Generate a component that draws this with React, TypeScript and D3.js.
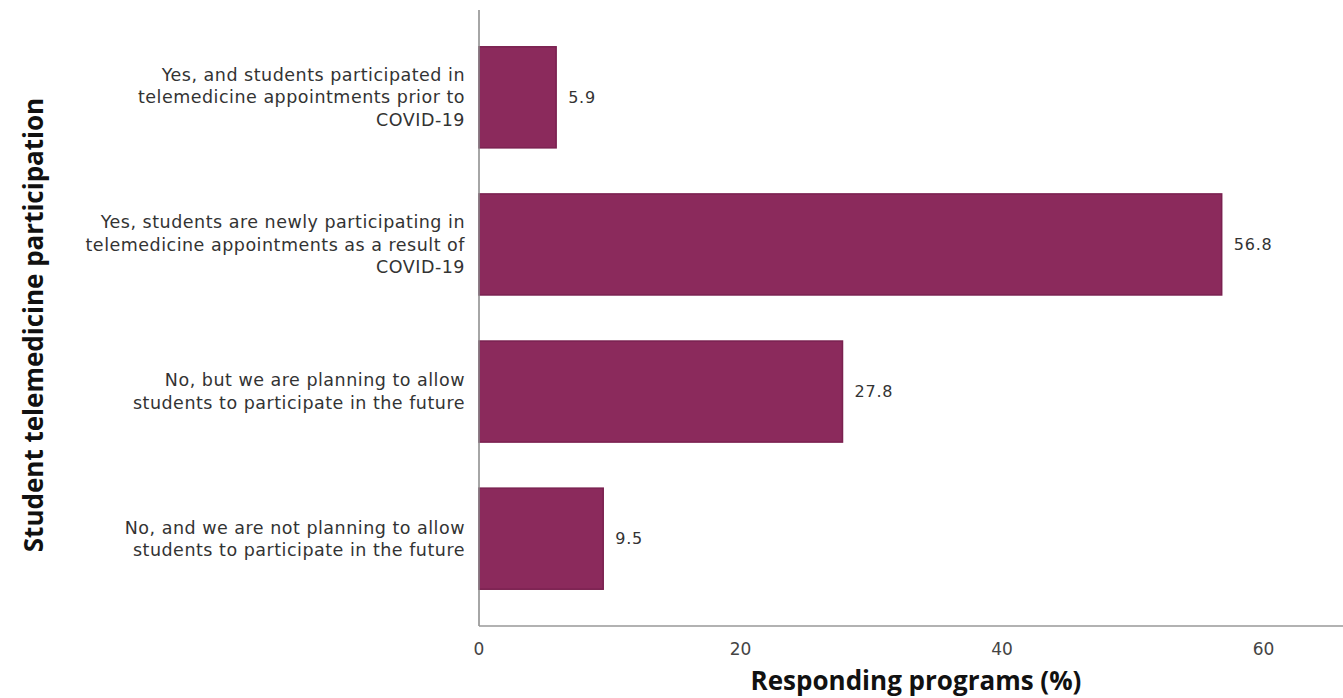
import React, { useEffect, useRef } from 'react';
import * as d3 from 'd3';

// category labels, already split into the lines used in the chart
const categories: string[][] = [
  ['Yes, and students participated in', 'telemedicine appointments prior to', 'COVID-19'],
  ['Yes, students are newly participating in', 'telemedicine appointments as a result of', 'COVID-19'],
  ['No, but we are planning to allow', 'students to participate in the future'],
  ['No, and we are not planning to allow', 'students to participate in the future'],
];
const values: number[] = [5.9, 56.8, 27.8, 9.5];
const xTicks: number[] = [0, 20, 40, 60];

const xTitle = 'Responding programs (%)';
const yTitle = 'Student telemedicine participation';

const App: React.FC = () => {
  const svgRef = useRef<SVGSVGElement>(null);

  useEffect(() => {
    if (!svgRef.current) return;
    const width = 1343;
    const height = 698;
    const font = '"DejaVu Sans", sans-serif';
    const titleFont = '"Open Sans", "Noto Sans", sans-serif';

    const svg = d3.select(svgRef.current).attr('width', width).attr('height', height);
    svg.selectAll('*').remove();

    svg.append('rect').attr('width', width).attr('height', height).style('fill', 'white');

    const x = d3.scaleLinear().domain([0, 66]).range([479, 1342]);
    const idx = values.map((_, i) => String(i));
    const y = d3.scaleBand<string>().domain(idx).range([10, 626]).paddingInner(0.313).paddingOuter(0.25);

    // bars
    svg.selectAll('.bar')
      .data(values)
      .enter().append('rect')
      .attr('class', 'bar')
      .attr('x', x(0))
      .attr('y', (_, i) => y(String(i))!)
      .attr('width', d => x(d) - x(0))
      .attr('height', y.bandwidth())
      .style('fill', '#8b2a5c')
      .style('stroke', '#7a2150')
      .style('stroke-width', 1.5);

    // value labels
    svg.selectAll('.val')
      .data(values)
      .enter().append('text')
      .attr('class', 'val')
      .attr('x', d => x(d) + 12)
      .attr('y', (_, i) => y(String(i))! + y.bandwidth() / 2)
      .attr('dy', '0.35em')
      .style('font-family', font)
      .style('font-size', '16px')
      .style('letter-spacing', '0.8px')
      .style('fill', '#333')
      .text(d => d.toFixed(1));

    // category labels
    const lineH = 22.5;
    const cat = svg.selectAll('.cat')
      .data(categories)
      .enter().append('text')
      .attr('class', 'cat')
      .attr('text-anchor', 'end')
      .style('font-family', font)
      .style('font-size', '17.5px')
      .style('letter-spacing', '0.5px')
      .style('fill', '#333');
    cat.each(function (lines, i) {
      const cy = y(String(i))! + y.bandwidth() / 2;
      const top = cy - ((lines.length - 1) * lineH) / 2;
      d3.select(this).selectAll('tspan')
        .data(lines)
        .enter().append('tspan')
        .attr('x', 465)
        .attr('y', (_, j) => top + j * lineH)
        .attr('dy', '0.35em')
        .text(d => d);
    });

    // axes lines
    svg.append('line')
      .attr('x1', x(0)).attr('x2', x(0))
      .attr('y1', 10).attr('y2', 626)
      .style('stroke', '#888').style('stroke-width', 1.5);
    svg.append('line')
      .attr('x1', x(0)).attr('x2', width)
      .attr('y1', 626).attr('y2', 626)
      .style('stroke', '#999').style('stroke-width', 1.5);

    // x tick labels
    svg.selectAll('.tick')
      .data(xTicks)
      .enter().append('text')
      .attr('class', 'tick')
      .attr('x', d => x(d))
      .attr('y', 649)
      .attr('dy', '0.35em')
      .attr('text-anchor', 'middle')
      .style('font-family', font)
      .style('font-size', '17px')
      .style('fill', '#444')
      .text(d => String(d));

    // axis titles
    svg.append('text')
      .attr('x', 916)
      .attr('y', 681)
      .attr('dy', '0.35em')
      .attr('text-anchor', 'middle')
      .style('font-family', titleFont)
      .style('font-weight', 'bold')
      .style('font-size', '26px')
      .style('fill', '#111')
      .text(xTitle);

    svg.append('text')
      .attr('transform', 'translate(34,325) rotate(-90)')
      .attr('dy', '0.35em')
      .attr('text-anchor', 'middle')
      .style('font-family', titleFont)
      .style('font-weight', 'bold')
      .style('font-size', '26px')
      .style('fill', '#111')
      .text(yTitle);
  }, []);

  return (
    <div style={{ position: 'absolute', left: 0, top: 0 }}>
      <svg ref={svgRef} style={{ display: 'block' }}></svg>
    </div>
  );
};

export default App;
